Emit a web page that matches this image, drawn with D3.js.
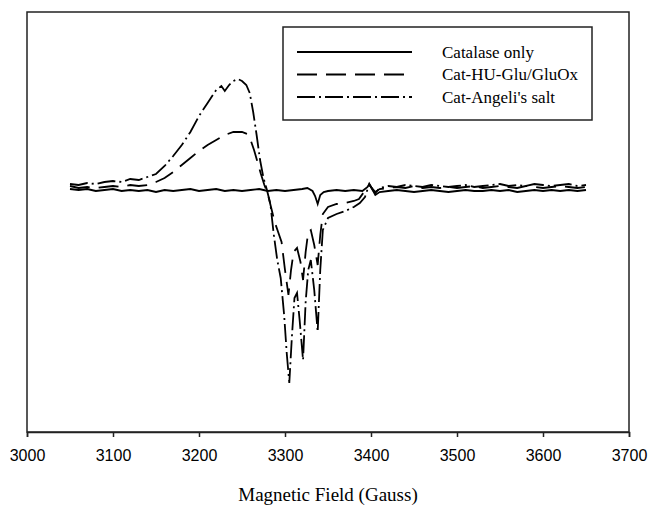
<!DOCTYPE html>
<html lang="en">
<head>
  <meta charset="UTF-8">
  <title>EPR spectra</title>
  <style>
    body { margin: 0; background: #ffffff; }
    #chart { width: 648px; height: 506px; }
    .tick text { font-family: "Liberation Sans", Arial, sans-serif; font-size: 16px; }
  </style>
  <script src="https://d3js.org/d3.v7.min.js"></script>
</head>
<body>
<div id="chart"></div>
<script>
  // tick labels of the field axis
  var xTicks = [3000, 3100, 3200, 3300, 3400, 3500, 3600, 3700];

  // Catalase only (solid)
  var catField = [3050,3060,3070,3080,3090,3100,3110,3120,3130,3140,3150,3160,3170,3180,3190,3200,3210,3220,3230,3240,3250,3260,3270,3280,3290,3300,3310,3320,3326,3332,3335,3338,3341,3345,3350,3360,3370,3380,3390,3396,3398,3402,3405,3410,3420,3430,3440,3450,3460,3470,3480,3490,3500,3510,3520,3530,3540,3550,3560,3570,3580,3590,3600,3610,3620,3630,3640,3650];
  var catSignal = [1,0,1,-1,0,1,-1,0,-1,0,-2,0,-1,0,1,-1,0,1,-1,0,-1,0,1,-1,0,-1,0,1,2,-1,-6,-14,-5,-2,-1,0,-1,0,-1,3,6,0,-5,-2,-1,0,-1,-2,-1,0,-1,-2,-1,0,-1,-1,0,-1,0,-2,-1,0,-1,0,-1,0,-1,0];

  // Cat-HU-Glu/GluOx (dashed)
  var hgField = [3050,3060,3070,3080,3090,3100,3110,3120,3130,3140,3150,3160,3170,3180,3190,3200,3210,3220,3230,3240,3250,3256,3260,3264,3268,3272,3276,3280,3284,3288,3292,3296,3300,3304,3307,3310,3314,3318,3321,3324,3327,3330,3334,3338,3341,3344,3350,3360,3370,3380,3386,3391,3395,3398,3402,3405,3410,3420,3430,3440,3450,3460,3470,3480,3490,3500,3510,3520,3530,3540,3550,3560,3570,3580,3590,3600,3610,3620,3630,3640,3650];
  var hgSignal = [4,2,3,2,3,4,3,5,4,5,8,12,18,25,32,39,45,50,55,58,58,56,50,40,28,16,5,-4,-18,-32,-42,-52,-80,-105,-80,-62,-58,-72,-90,-62,-42,-40,-55,-75,-45,-24,-17,-14,-13,-11,-9,-3,2,5,1,-2,1,2,3,2,4,2,3,2,3,2,3,4,2,3,4,3,2,4,3,2,3,4,3,2,3];

  // Cat-Angeli's salt (dash-dot)
  var asField = [3050,3060,3070,3080,3090,3100,3110,3120,3130,3140,3150,3160,3170,3180,3190,3200,3210,3220,3226,3230,3235,3240,3245,3250,3255,3259,3263,3267,3271,3275,3279,3283,3287,3291,3295,3299,3302,3305,3308,3311,3314,3317,3321,3324,3327,3330,3334,3338,3341,3344,3350,3360,3370,3380,3387,3393,3398,3402,3405,3410,3420,3430,3440,3450,3460,3470,3480,3490,3500,3510,3520,3530,3540,3550,3560,3570,3580,3590,3600,3610,3620,3630,3640,3650];
  var asSignal = [6,5,7,6,8,9,8,11,10,13,16,24,34,45,58,74,87,100,104,99,105,109,111,109,105,97,78,55,30,12,0,-14,-45,-70,-88,-125,-163,-193,-147,-108,-103,-130,-170,-112,-80,-70,-100,-142,-80,-40,-28,-24,-21,-17,-13,-7,6,0,-3,2,4,3,5,4,3,5,4,3,4,5,3,4,5,6,4,5,4,6,5,4,5,6,4,5];

  var seriesNames = ["Catalase only", "Cat-HU-Glu/GluOx", "Cat-Angeli's salt"];

  var width = 648, height = 506;
  var plotLeft = 27, plotRight = 629, plotTop = 12, plotBottom = 432;

  var svg = d3.select("#chart").append("svg")
      .attr("width", width)
      .attr("height", height);

  var x = d3.scaleLinear().domain([3000, 3700]).range([plotLeft, plotRight]);
  var y = d3.scaleLinear().domain([-242, 178]).range([plotBottom, plotTop]);

  var dashes = ["none", "20,9", "18,4,2,4"];

  var series = [
    d3.zip(catField, catSignal),
    d3.zip(hgField, hgSignal),
    d3.zip(asField, asSignal)
  ];

  var line = d3.line()
      .x(function(d) { return x(d[0]); })
      .y(function(d) { return y(d[1]); });

  // frame
  svg.append("rect")
      .attr("x", plotLeft).attr("y", plotTop)
      .attr("width", plotRight - plotLeft).attr("height", plotBottom - plotTop)
      .attr("fill", "none")
      .attr("stroke", "#222")
      .attr("stroke-width", 1.5);

  // x axis
  var xAxis = d3.axisBottom(x).tickValues(xTicks).tickSize(5).tickPadding(13).tickFormat(d3.format("d"));
  var gx = svg.append("g")
      .attr("transform", "translate(0," + plotBottom + ")")
      .call(xAxis);
  gx.select(".domain").attr("stroke", "#222").attr("stroke-width", 1.5);
  gx.selectAll(".tick line").attr("stroke", "#222").attr("stroke-width", 1.5);
  gx.selectAll(".tick text").attr("fill", "#000");

  svg.append("text")
      .attr("x", (plotLeft + plotRight) / 2)
      .attr("y", 501)
      .attr("text-anchor", "middle")
      .style("font-family", "'Liberation Serif', 'Times New Roman', serif")
      .style("font-size", "19px")
      .text("Magnetic Field (Gauss)");

  // spectra
  series.forEach(function(s, i) {
    svg.append("path")
        .datum(s)
        .attr("d", line)
        .attr("fill", "none")
        .attr("stroke", "#000")
        .attr("stroke-width", 1.8)
        .attr("stroke-dasharray", dashes[i]);
  });

  // legend
  var lg = svg.append("g");
  lg.append("rect")
      .attr("x", 283).attr("y", 27)
      .attr("width", 309).attr("height", 93)
      .attr("fill", "#fff")
      .attr("stroke", "#222")
      .attr("stroke-width", 1.5);
  var rowY = [52, 74.5, 97];
  seriesNames.forEach(function(name, i) {
    lg.append("line")
        .attr("x1", 297).attr("x2", 412)
        .attr("y1", rowY[i]).attr("y2", rowY[i])
        .attr("stroke", "#000")
        .attr("stroke-width", 2)
        .attr("stroke-dasharray", dashes[i]);
    lg.append("text")
        .attr("x", 442).attr("y", rowY[i])
        .attr("dy", "0.35em")
        .style("font-family", "'Liberation Serif', 'Times New Roman', serif")
        .style("font-size", "17px")
        .text(name);
  });
</script>
</body>
</html>
